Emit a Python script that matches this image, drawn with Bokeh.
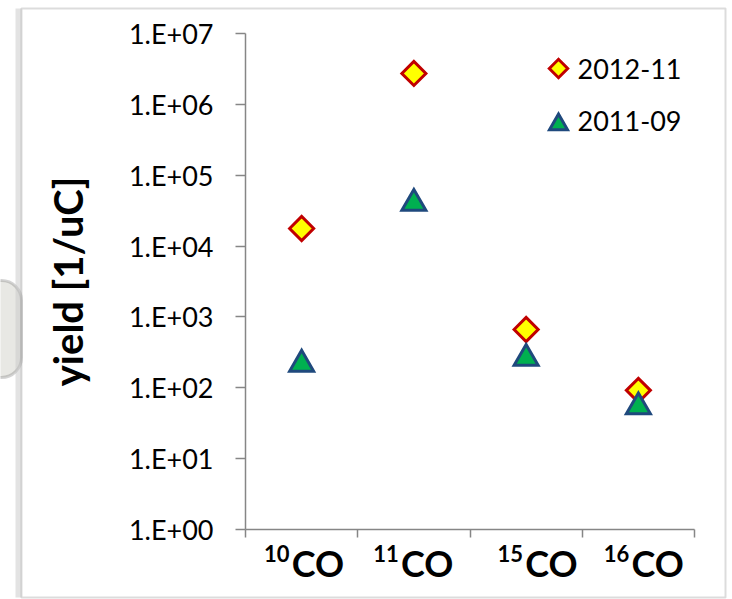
import numpy as np
from bokeh.plotting import figure
from bokeh.models import (Range1d, FixedTicker, Label, ColumnDataSource,
                          BoxAnnotation, LinearAxis, LogAxis)
from bokeh.embed import file_html
from bokeh.resources import INLINE

# ---- data ----
categories = ["10CO", "11CO", "15CO", "16CO"]
mass_labels = ["10", "11", "15", "16"]
molecule_labels = ["CO", "CO", "CO", "CO"]
series_names = ["2012-11", "2011-09"]
yield_2012_11 = [1.77e4, 2.73e6, 665, 92]
yield_2011_09 = [215, 4.0e4, 260, 54]
y_ticks = [1, 10, 100, 1e3, 1e4, 1e5, 1e6, 1e7]
y_tick_labels = ["1.E+00", "1.E+01", "1.E+02", "1.E+03",
                 "1.E+04", "1.E+05", "1.E+06", "1.E+07"]
y_axis_title = "yield [1/uC]"

# ---- layout / style ----
W, H = 732, 599
AL, AR, AT, AB = 245, 694, 33, 529   # pixel box of the data area (axes)
label_nudge = [0, -3, 9, 3]          # px, horizontal placement of category labels
FONT = "Lato"
AXIS_GRAY = "#868686"
DIAMOND = dict(marker="square", angle=np.pi / 4, fill_color="#FFFF00",
               line_color="#C00000", line_width=3, line_join="miter")
TRIANGLE = dict(marker="triangle", fill_color="#00B050",
                line_color="#1F497D", line_width=3, line_join="miter")

x_lo, x_hi = 0, len(categories)
ly_lo, ly_hi = np.log10(y_ticks[0]), np.log10(y_ticks[-1])
ux = (AR - AL) / (x_hi - x_lo)           # px per x unit
uy = (AB - AT) / (ly_hi - ly_lo)         # px per decade
x_start, x_end = x_lo - AL / ux, x_hi + (W - AR) / ux
y_start, y_end = 10 ** (ly_lo - (H - AB) / uy), 10 ** (ly_hi + AT / uy)

p = figure(width=W, height=H,
           x_range=Range1d(x_start, x_end), y_range=Range1d(y_start, y_end),
           y_axis_type="log", x_axis_location=None, y_axis_location=None,
           output_backend="svg", toolbar_location=None,
           min_border=0)
p.outline_line_color = None
p.grid.visible = False
p.background_fill_color = "white"
p.border_fill_color = "white"


def px_to_x(px):
    return x_start + px / ux


def px_to_y(py):
    return 10 ** (ly_hi + (AT - py) / uy)


# ---- slide-like decorations (outer chart frame) ----
def canvas_box(**kw):
    b = BoxAnnotation(left_units="canvas", right_units="canvas",
                      top_units="canvas", bottom_units="canvas",
                      level="underlay", **kw)
    p.add_layout(b)
    return b


canvas_box(left=-40, right=21, top=280, bottom=377, fill_color="#e8e8e4",
           fill_alpha=1, line_color="#6e6e6e", line_width=3, border_radius=20)
canvas_box(left=15, right=21, top=8, bottom=597, fill_color="#c8c8c8",
           fill_alpha=0.5, line_color=None)
canvas_box(left=21, right=725, top=8, bottom=597, fill_alpha=0,
           line_color="#8a8a8a", line_width=2)

# ---- axes (fixed inside the canvas-sized frame) ----
yax = LogAxis(fixed_location=x_lo, bounds=(y_ticks[0], y_ticks[-1]))
yax.ticker = FixedTicker(ticks=y_ticks, minor_ticks=[])
yax.major_label_overrides = {t: l for t, l in zip(y_ticks, y_tick_labels)}
yax.major_tick_out = 10
yax.major_tick_in = 0
yax.minor_tick_out = 0
yax.minor_tick_in = 0
yax.axis_line_color = AXIS_GRAY
yax.axis_line_width = 1.5
yax.major_tick_line_color = AXIS_GRAY
yax.major_tick_line_width = 1.5
yax.major_label_standoff = 22
yax.major_label_text_font = FONT
yax.major_label_text_font_size = "27px"
yax.major_label_text_color = "black"
yax.axis_label = y_axis_title
yax.axis_label_text_font = FONT
yax.axis_label_text_font_style = "bold"
yax.axis_label_text_font_size = "40px"
yax.axis_label_text_color = "black"
yax.axis_label_standoff = 34
p.add_layout(yax, "left")

xax = LinearAxis(fixed_location=y_ticks[0], bounds=(x_lo, x_hi))
xax.ticker = FixedTicker(ticks=list(range(len(categories) + 1)), minor_ticks=[])
xax.major_tick_out = 8
xax.major_tick_in = 0
xax.minor_tick_out = 0
xax.minor_tick_in = 0
xax.axis_line_color = AXIS_GRAY
xax.axis_line_width = 1.5
xax.major_tick_line_color = AXIS_GRAY
xax.major_tick_line_width = 1.5
xax.major_label_text_color = None
xax.major_label_text_font_size = "1px"
p.add_layout(xax, "below")

# ---- markers ----
xs = [i + 0.5 for i in range(len(categories))]
src = ColumnDataSource(dict(x=xs, cat=categories,
                            y12=yield_2012_11, y11=yield_2011_09))
p.scatter("x", "y12", source=src, size=17, **DIAMOND)
p.scatter("x", "y11", source=src, size=24, **TRIANGLE)

# ---- category labels with superscript mass numbers ----
for xc, mass, mol, dx in zip(xs, mass_labels, molecule_labels, label_nudge):
    p.add_layout(Label(x=xc, y=y_ticks[0], text=mol, x_offset=dx - 10, y_offset=-33,
                       text_font=FONT, text_font_style="bold",
                       text_font_size="36px", text_color="black",
                       text_align="left", text_baseline="alphabetic"))
    p.add_layout(Label(x=xc, y=y_ticks[0], text=mass, x_offset=dx - 12, y_offset=-24,
                       text_font=FONT, text_font_style="bold",
                       text_font_size="22px", text_color="black",
                       text_align="right", text_baseline="alphabetic"))

# ---- legend ----
p.scatter(x=[px_to_x(558)], y=[px_to_y(68)], size=13, **DIAMOND)
p.scatter(x=[px_to_x(558)], y=[px_to_y(124)], size=18, **TRIANGLE)
for name, ty in zip(series_names, [68, 120.5]):
    p.add_layout(Label(x=px_to_x(577), y=px_to_y(ty), text=name,
                       text_font=FONT, text_font_size="27px",
                       text_color="black", text_align="left",
                       text_baseline="middle"))

open("out.html", "w").write(file_html(p, INLINE))
